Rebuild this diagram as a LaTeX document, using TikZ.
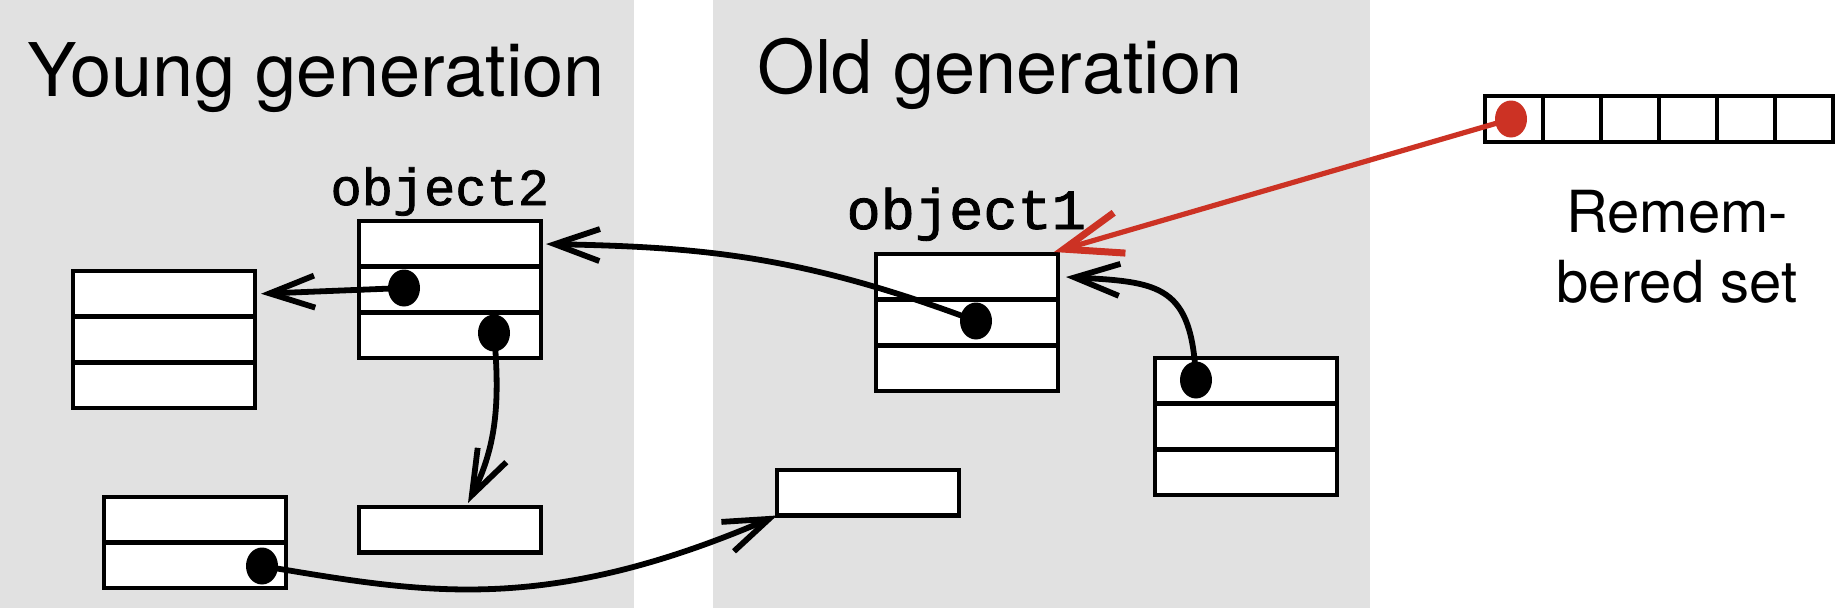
\documentclass[tikz,border=0pt]{standalone}
\usepackage{fontspec}
\setmainfont{TeX Gyre Heros}
\newfontfamily\objfont[FakeBold=1.5]{Liberation Mono}
\usetikzlibrary{arrows.meta,shapes.geometric}
\definecolor{panelgray}{RGB}{225,225,225}
\definecolor{remred}{RGB}{204,50,36}
\begin{document}
\begin{tikzpicture}[x=1pt,y=-1pt,
  objbox/.style={draw=black,line width=4.6pt,fill=white,minimum width=182pt,inner sep=0pt,outer sep=0pt,anchor=north west},
  cell/.style={draw=black,line width=4.6pt,fill=white,minimum width=58pt,minimum height=46pt,inner sep=0pt,outer sep=0pt,anchor=north west},
  divider/.style={draw=black,line width=4.6pt},
  dot/.style={ellipse,fill=black,draw=none,minimum width=32pt,minimum height=37pt,inner sep=0pt},
  reddot/.style={dot,fill=remred},
  conn/.style={draw=black,line width=5.8pt,-{Straight Barb[length=45pt,width=32pt]}},
  redconn/.style={draw=remred,line width=5.2pt,-{Straight Barb[length=58pt,width=42pt,line width=7pt]}},
  title/.style={anchor=base west,font=\fontsize{74}{84}\selectfont},
  objlabel/.style={anchor=base west,font=\objfont\fontsize{52}{56}\selectfont},
  remlabel/.style={anchor=base,font=\fontsize{58}{70}\selectfont}
]
\useasboundingbox (0,0) rectangle (1841,608);
\fill[white] (0,0) rectangle (1841,608);
% panels
\fill[panelgray] (0,0) rectangle (634,608);
\fill[panelgray] (713,0) rectangle (1370,608);
% titles
\node[title] (yg) at (24,96) {Young generation};
\node[title] (og) at (754,93) {Old generation};
\node[objlabel] (l2) at (327,205) {object2};
\node[objlabel,font=\objfont\fontsize{57}{60}\selectfont] (l1) at (843,229) {object1};
\node[remlabel] (rem1) at (1677,232) {Remem-};
\node[remlabel] (rem2) at (1677,302) {bered set};
% boxes
\node[objbox,minimum height=137pt] (A) at (73,271) {};
\node[objbox,minimum height=137pt] (o2) at (359,221) {};
\node[objbox,minimum height=137pt] (o1) at (876,254) {};
\node[objbox,minimum height=137pt] (C) at (1155,358) {};
\node[objbox,minimum height=45.5pt] (sy) at (359,507) {};
\node[objbox,minimum height=91pt] (BL) at (104,497) {};
\node[objbox,minimum height=45.5pt] (os) at (777,470) {};
\foreach \b in {A,o2,o1,C}{
  \draw[divider] ([yshift=-45.67pt]\b.north west) -- ([yshift=-45.67pt]\b.north east);
  \draw[divider] ([yshift=-91.33pt]\b.north west) -- ([yshift=-91.33pt]\b.north east);
}
\draw[divider] (BL.west) -- (BL.east);
% remembered set
\foreach \i in {1,...,6}{
  \node[cell] (r\i) at ({1485+58*(\i-1)},96) {};
}
% dots
\node[dot] (d2a) at (404,288) {};
\node[dot] (d2b) at (494,333) {};
\node[dot] (d1) at (976,321) {};
\node[dot] (dC) at (1196,380) {};
\node[dot] (dBL) at (262,566) {};
\node[reddot] (dR) at ([xshift=-3pt]r1.center) {};
% connectors
\draw[conn] (d2a.center) -- ([shift={(6,22.75)}]A.north east);
\draw[conn] (d2b.center) .. controls (500,400) and (497,445) .. ([shift={(109,-4)}]sy.north west);
\draw[conn] (d1.center) .. controls (800,255) and (700,247) .. ([shift={(5,23)}]o2.north east);
\draw[conn] (dC.center) .. controls (1192,285) and (1160,282) .. ([shift={(8,23)}]o1.north east);
\draw[conn] (dBL.center) .. controls (420,592) and (540,617) .. (os.south west);
\draw[redconn] (dR.center) -- ([shift={(-4,-2)}]o1.north east);
\end{tikzpicture}
\end{document}
